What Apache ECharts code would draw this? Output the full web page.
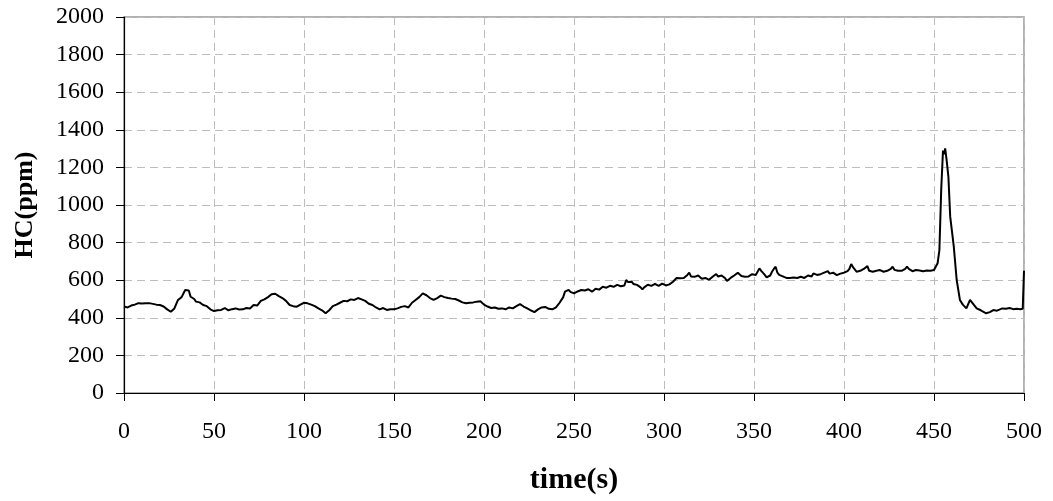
<!DOCTYPE html>
<html>
<head>
<meta charset="utf-8">
<script src="https://cdn.jsdelivr.net/npm/echarts@6/dist/echarts.min.js"></script>
<style>html,body{margin:0;padding:0;background:#fff;}#c{width:1053px;height:501px;}</style>
</head>
<body>
<div id="c"></div>
<script>
const timeSec = [
  0,2,4,6,8,10,12,14,16,17,18,20,22,24,26,28,30,32,34,36,37,39,40,42,44,46,48,50,52,54,56,58,60,62,64,66,68,70,72,74,76,78,80,82,84,86,88,90,92,94,96,98,100,102,104,106,108,110,112,114,116,118,120,122,124,126,128,130,132,134,136,138,140,142,144,146,148,150,152,154,156,158,160,162,164,166,168,170,172,174,176,178,180,182,184,186,188,190,192,194,196,198,200,202,204,206,208,210,212,214,216,218,220,222,224,226,228,230,232,234,236,238,240,242,243,244,
  245,246,247,248,249,250,251,252,253,254,
  255,256,257,258,259,260,261,262,263,264,
  265,266,267,268,269,270,271,272,273,274,
  275,276,277,278,279,280,281,282,283,284,
  285,286,287,288,289,290,291,292,293,294,
  295,296,297,298,299,300,301,302,303,304,
  305,306,307,308,309,310,311,312,313,314,
  315,316,317,318,319,320,321,322,323,324,
  325,326,327,328,329,330,331,332,333,334,
  335,336,337,338,339,340,341,342,343,344,
  345,346,347,348,349,350,351,352,353,354,
  355,356,357,358,359,360,361,362,363,364,
  365,366,367,368,369,370,371,372,373,374,
  375,376,377,378,379,380,381,382,383,384,
  385,386,387,388,389,390,391,392,393,394,
  395,396,397,398,399,400,401,402,403,404,
  405,406,407,408,409,410,411,412,413,414,
  415,416,417,418,419,420,421,422,423,424,
  425,426,427,428,429,430,431,432,433,434,
  435,436,437,438,439,440,441,442,443,444,
  445,446,447,448,449,450,451,452,
  453,454,455,455.7,456.2,457,458,459,461,462.6,464.4,466,468,470,471,473.7,476,479,481,483,485,488,490,492,494,496,498,499.3,500
];
const hcPpm = [
  460,455,465,470,478,476,477,478,474,482,470,468,460,445,432,450,495,510,548,545,512,500,486,482,468,462,445,436,440,442,452,440,446,450,444,445,452,450,468,465,490,498,510,525,528,515,505,490,468,462,459,470,480,477,470,462,450,440,424,440,462,470,480,490,488,498,495,505,498,490,475,468,455,445,452,442,446,445,450,458,462,455,480,495,510,530,520,505,495,505,518,510,505,502,500,492,482,477,480,482,486,488,470,460,452,455,448,450,445,455,450,462,473,460,450,440,430,445,455,458,448,445,455,480,490,510,
  539,545,549,538,540,530,536,540,535,548,
  551,545,540,552,546,539,548,555,545,550,
  558,565,556,560,566,570,560,565,572,575,
  566,568,574,572,601,590,585,592,580,585,
  575,570,562,551,562,570,576,580,570,572,
  580,578,570,574,582,580,572,575,578,585,
  592,600,612,622,610,618,612,620,628,640,
  620,625,618,612,625,620,608,600,612,608,
  602,605,618,612,633,620,615,625,620,610,
  596,605,612,618,625,632,640,630,622,625,
  618,612,620,620,632,640,628,625,663,650,
  640,628,615,620,625,645,660,672,640,628,
  618,620,615,612,615,612,610,614,615,612,
  616,618,614,612,620,625,618,620,636,628,
  628,625,632,630,640,645,648,635,632,640,
  638,627,630,635,638,640,645,648,660,686,
  670,660,645,648,650,655,660,668,675,650,
  646,645,648,650,652,654,650,645,648,650,
  655,660,672,655,648,650,645,650,655,660,
  672,660,650,648,652,654,648,652,650,648,
  652,652,648,650,652,654,656,690,
  760,1080,1290,1270,1301,1240,1150,938,778,601,495,470,450,495,488,450,440,424,430,441,438,450,448,452,446,448,446,448,650
];
const xTicks = [0,50,100,150,200,250,300,350,400,450,500];
const yTicks = [0,200,400,600,800,1000,1200,1400,1600,1800,2000];

const data = timeSec.map((t, i) => [t, hcPpm[i]]);
const chart = echarts.init(document.getElementById('c'), null, {renderer: 'canvas'});
const serif = '"Liberation Serif", "Times New Roman", serif';
chart.setOption({
  animation: false,
  backgroundColor: '#fff',
  grid: {left: 124, right: 29, top: 17, bottom: 108, show: true, borderColor: '#999', borderWidth: 1.5, backgroundColor: 'transparent'},
  xAxis: {
    type: 'value', min: xTicks[0], max: xTicks[xTicks.length-1], interval: 50,
    name: 'time(s)', nameLocation: 'middle', nameGap: 72,
    nameTextStyle: {fontFamily: serif, fontWeight: 'bold', fontSize: 30, color: '#000'},
    axisLine: {show: true, onZero: false, lineStyle: {color: '#000', width: 1.2}},
    axisTick: {show: true, inside: false, length: 8, lineStyle: {color: '#000'}},
    axisLabel: {fontFamily: serif, fontSize: 24, color: '#000', margin: 27, formatter: v => String(v)},
    splitLine: {show: true, lineStyle: {color: '#bdbdbd', type: [8, 5], width: 1}}
  },
  yAxis: {
    type: 'value', min: yTicks[0], max: yTicks[yTicks.length-1], interval: 200,
    name: 'HC(ppm)', nameLocation: 'middle', nameGap: 86,
    nameTextStyle: {fontFamily: serif, fontWeight: 'bold', fontSize: 26, color: '#000'},
    axisLine: {show: true, lineStyle: {color: '#000', width: 1.2}},
    axisTick: {show: true, inside: false, length: 8, lineStyle: {color: '#000'}},
    axisLabel: {fontFamily: serif, fontSize: 24, color: '#000', margin: 20, formatter: v => String(v)},
    splitLine: {show: true, lineStyle: {color: '#bdbdbd', type: [8, 5], width: 1}}
  },
  series: [{
    type: 'line', data: data, showSymbol: false, symbol: 'none',
    lineStyle: {color: '#000', width: 2}, clip: true
  }]
});
</script>
</body>
</html>
